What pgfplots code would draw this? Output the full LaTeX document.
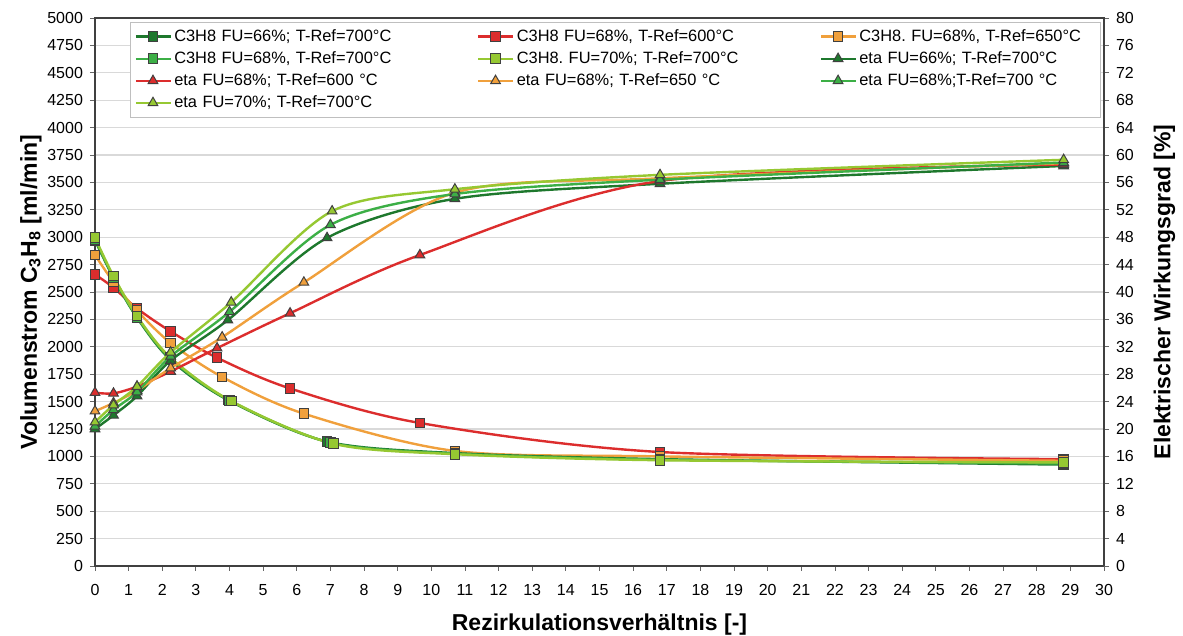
\documentclass[border=0pt]{standalone}
\usepackage{fontspec}
\setmainfont{Liberation Sans}
\usepackage{pgfplots}
\pgfplotsset{compat=1.18}
\frenchspacing
\definecolor{cdg}{RGB}{30,120,45}
\definecolor{cmg}{RGB}{60,175,70}
\definecolor{clg}{RGB}{150,200,50}
\definecolor{cred}{RGB}{220,45,45}
\definecolor{corg}{RGB}{240,160,60}
\pgfplotsset{
  base/.style={width=504.5pt,height=274pt,scale only axis,xmin=0,xmax=30,
    tick align=outside, major tick length=2.5pt,
    every tick/.style={black!60},
    axis line style={black!75, line width=0.8pt},
    ticklabel style={font=\fontsize{8}{9.6}\selectfont},
    /pgf/number format/assume math mode=true,
    /pgf/number format/1000 sep={},
    label style={font=\bfseries\fontsize{11.5}{13}\selectfont}},
  sq/.style={#1, line width=1.2pt, smooth, mark=square*, mark size=2.4pt, mark options={fill=#1, draw=black!75, line width=0.5pt, solid}},
  tr/.style={#1, line width=1.2pt, smooth, mark=triangle*, mark size=2.8pt, mark options={fill=#1, draw=black!75, line width=0.5pt, solid}},
}
\begin{document}
\begin{tikzpicture}
\path[use as bounding box] (-47.5pt,-35pt) rectangle (544pt,283pt);
\begin{axis}[base,
  ymin=0, ymax=5000, ytick={0,250,...,5000}, xtick={0,1,...,30},
  ytick pos=left, xtick pos=bottom,
  ymajorgrids, grid style={black!15, line width=0.6pt},
  xticklabel style={yshift=-3pt},
  xlabel={Rezirkulationsverhältnis [-]},
  ylabel={Volumenstrom C\textsubscript{3}H\textsubscript{8} [ml/min]},
  xlabel style={yshift=-2.5pt},
  ylabel style={yshift=-4pt},
]
\addplot[sq=cred] coordinates {(0,2660)(0.55,2540)(1.25,2350)(2.25,2140)(3.63,1900)(5.8,1620)(9.66,1305)(16.8,1040)(28.8,975)};
\addplot[sq=corg] coordinates {(0,2838)(0.55,2590)(1.25,2330)(2.25,2035)(3.78,1725)(6.21,1390)(10.7,1050)(16.8,1000)(28.8,960)};
\addplot[sq=cdg] coordinates {(0,2970)(0.55,2630)(1.25,2265)(2.25,1880)(3.95,1515)(6.9,1135)(10.7,1030)(16.8,975)(28.8,925)};
\addplot[sq=cmg] coordinates {(0,2980)(0.55,2635)(1.25,2270)(2.25,1890)(4.0,1510)(7.0,1125)(10.7,1025)(16.8,970)(28.8,935)};
\addplot[sq=clg] coordinates {(0,2995)(0.55,2645)(1.25,2280)(2.25,1900)(4.05,1505)(7.1,1115)(10.7,1020)(16.8,965)(28.8,945)};
\end{axis}
\begin{axis}[base,
  ymin=0, ymax=80, ytick={0,4,...,80},
  axis y line*=right, axis x line=none,
  ylabel={Elektrischer Wirkungsgrad [\%]},
  ylabel style={yshift=-3pt},
  legend columns=3,
  legend cell align=left,
  legend style={at={(0.035,0.993)}, anchor=north west, draw=black!25, fill=white,
    font=\fontsize{8.2}{9.5}\selectfont, inner sep=2pt, row sep=0.6pt,
    nodes={text width=117pt, inner sep=1.5pt},
    /tikz/every even column/.append style={column sep=33pt}},
]
\addlegendimage{sq=cdg}\addlegendentry{C3H8 FU=66\%; T-Ref=700°C}
\addlegendimage{sq=cred}\addlegendentry{C3H8 FU=68\%, T-Ref=600°C}
\addlegendimage{sq=corg}\addlegendentry{C3H8. FU=68\%, T-Ref=650°C}
\addlegendimage{sq=cmg}\addlegendentry{C3H8 FU=68\%, T-Ref=700°C}
\addlegendimage{sq=clg}\addlegendentry{C3H8. FU=70\%; T-Ref=700°C}
\addplot[tr=cdg] coordinates {(0,20.0)(0.55,22.0)(1.25,24.8)(2.25,30.0)(3.95,35.9)(6.9,47.9)(10.7,53.6)(16.8,55.8)(28.8,58.4)};
\addlegendentry{eta FU=66\%; T-Ref=700°C}
\addplot[tr=cred] coordinates {(0,25.3)(0.55,25.2)(1.25,26.2)(2.25,28.4)(3.63,31.8)(5.8,36.9)(9.66,45.4)(16.8,56.2)(28.8,58.6)};
\addlegendentry{eta FU=68\%; T-Ref=600 °C}
\addplot[tr=corg] coordinates {(0,22.6)(0.55,23.8)(1.25,25.6)(2.25,28.9)(3.78,33.4)(6.21,41.4)(10.7,54.5)(16.8,56.6)(28.8,58.8)};
\addlegendentry{eta FU=68\%; T-Ref=650 °C}
\addplot[tr=cmg] coordinates {(0,20.4)(0.55,22.8)(1.25,25.4)(2.25,30.6)(4.0,37.1)(7.0,49.8)(10.7,54.3)(16.8,56.4)(28.8,58.9)};
\addlegendentry{eta FU=68\%;T-Ref=700 °C}
\addplot[tr=clg] coordinates {(0,21.0)(0.55,23.5)(1.25,26.2)(2.25,31.2)(4.05,38.5)(7.05,51.8)(10.7,55.0)(16.8,57.1)(28.8,59.3)};
\addlegendentry{eta FU=70\%; T-Ref=700°C}
\end{axis}
\end{tikzpicture}
\end{document}
